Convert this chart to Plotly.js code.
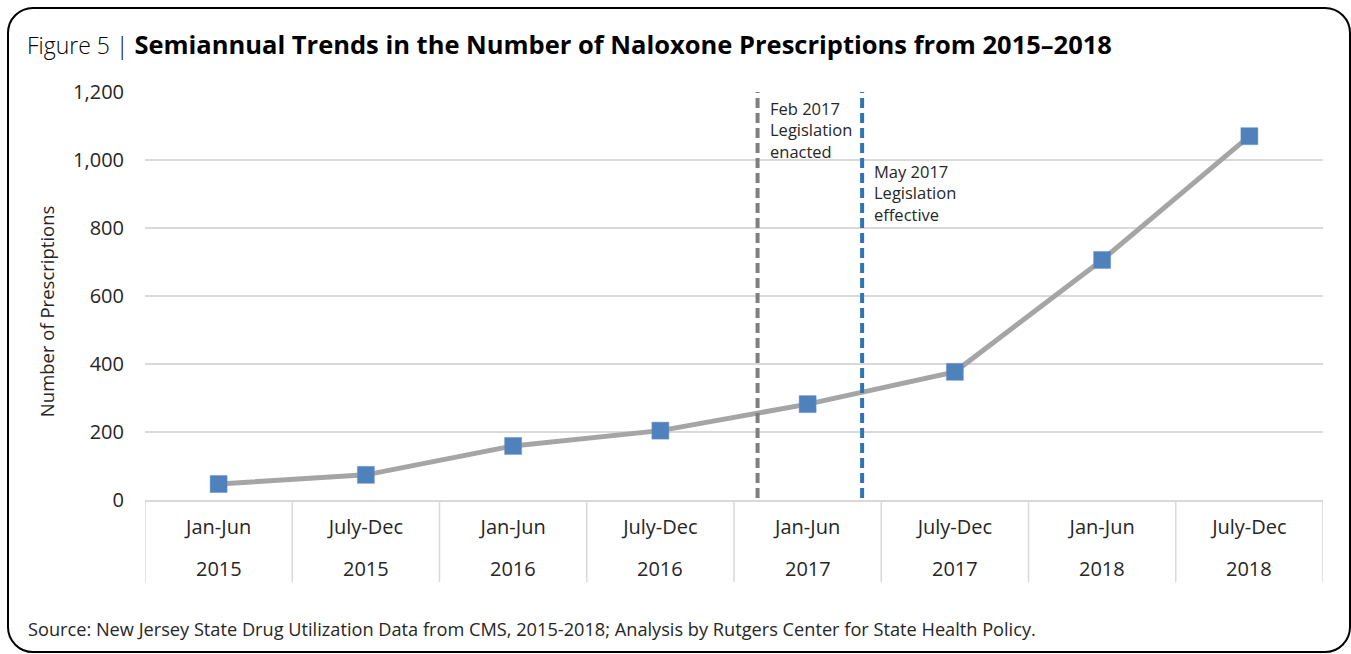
<!DOCTYPE html>
<html>
<head>
<meta charset="utf-8">
<script src="https://cdn.plot.ly/plotly-3.0.1.min.js"></script>
<style>
  html, body { margin: 0; padding: 0; background: #fff; }
  #wrap { position: relative; width: 1351px; height: 654px; overflow: hidden; }
  #chart { position: absolute; left: 0; top: 0; width: 1351px; height: 654px; }
  #frame { position: absolute; left: 7px; top: 7px; width: 1344px; height: 646px; box-sizing: border-box;
           border: 2px solid #000; border-radius: 26px; pointer-events: none; }
</style>
</head>
<body>
<div id="wrap">
  <div id="chart"></div>
  <div id="frame"></div>
</div>
<script>
// ---- data ----
const periods = ["Jan-Jun", "July-Dec", "Jan-Jun", "July-Dec", "Jan-Jun", "July-Dec", "Jan-Jun", "July-Dec"];
const years = ["2015", "2015", "2016", "2016", "2017", "2017", "2018", "2018"];
const prescriptions = [47, 74, 159, 204, 282, 377, 706, 1070];
// legislation events, positioned in category-index units
const eventNames = ["Feb 2017<br>Legislation<br>enacted", "May 2017<br>Legislation<br>effective"];
const eventPositions = [3.66, 4.37];
const eventLabelValues = [1192, 1007];
const eventColors = ["#7f7f7f", "#2e75b6"];
const yTicks = [0, 200, 400, 600, 800, 1000, 1200];

const FONT = "Open Sans, Noto Sans, sans-serif";
const TXT = "#262626";
const GRID = "#d9d9d9";

const cats = periods.map((p, i) => p + " " + years[i]);

const trace = {
  type: "scatter",
  mode: "lines+markers",
  x: cats,
  y: prescriptions,
  line: { color: "#a5a5a5", width: 5 },
  marker: { symbol: "square", size: 17, color: "#4f81bd", line: { color: "#6f95c8", width: 0.5 } },
  hoverinfo: "x+y",
  showlegend: false
};

const shapes = [];
// category boundary separators below the axis
for (let i = 0; i <= cats.length; i++) {
  shapes.push({
    type: "line", xref: "x", yref: "paper",
    x0: i - 0.5, x1: i - 0.5, y0: 0, y1: -0.201,
    line: { color: GRID, width: 1.5 }, layer: "below"
  });
}
// legislation lines
eventPositions.forEach((p, i) => {
  shapes.push({
    type: "line", xref: "x", yref: "paper",
    x0: p, x1: p, y0: 0.005, y1: 1,
    line: { color: eventColors[i], width: 4, dash: "10px,5px" }, layer: "above"
  });
});

const annotations = [];
years.forEach((yr, i) => {
  annotations.push({
    xref: "x", yref: "paper", x: cats[i], y: 0, yshift: -68,
    text: yr, showarrow: false, xanchor: "center", yanchor: "middle",
    font: { family: FONT, size: 20, color: TXT }
  });
});
eventNames.forEach((t, i) => {
  annotations.push({
    xref: "x", yref: "y", x: eventPositions[i], y: eventLabelValues[i],
    xanchor: "left", yanchor: "top", xshift: 10, align: "left",
    text: t, showarrow: false,
    font: { family: FONT, size: 16.5, color: TXT }
  });
});
annotations.push({
  xref: "paper", yref: "paper", x: -0.084, y: 0.463, xanchor: "center", yanchor: "middle",
  textangle: -90, text: "Number of Prescriptions", showarrow: false,
  font: { family: FONT, size: 18.5, color: TXT }
});
annotations.push({
  xref: "paper", yref: "paper", x: -0.1008, y: -0.316, xanchor: "left", yanchor: "middle",
  text: "Source: New Jersey State Drug Utilization Data from CMS, 2015-2018; Analysis by Rutgers Center for State Health Policy.",
  showarrow: false, font: { family: FONT, size: 18.2, color: TXT }
});
annotations.push({
  xref: "paper", yref: "paper", x: -0.1018, y: 1.118, xanchor: "left", yanchor: "middle",
  text: "<span style='font-weight:300;font-size:23px'>Figure 5 | </span><b>Semiannual Trends in the Number of Naloxone Prescriptions from 2015–2018</b>",
  showarrow: false, font: { family: FONT, size: 25.5, color: "#000" }
});

const layout = {
  width: 1351, height: 654,
  margin: { l: 145, r: 28, t: 92, b: 154 },
  paper_bgcolor: "rgba(0,0,0,0)",
  plot_bgcolor: "rgba(0,0,0,0)",
  font: { family: FONT, color: TXT },
  xaxis: {
    type: "category",
    tickmode: "array", tickvals: cats, ticktext: periods,
    range: [-0.5, cats.length - 0.5],
    showgrid: false, zeroline: false,
    showline: true, linecolor: GRID, linewidth: 1.5,
    ticks: "", ticklabelstandoff: 8,
    tickfont: { family: FONT, size: 20, color: TXT },
    fixedrange: true
  },
  yaxis: {
    range: [0, 1200], tickmode: "array", tickvals: yTicks,
    tickformat: ",d",
    showgrid: true, gridcolor: GRID, gridwidth: 1.5,
    zeroline: false, showline: false,
    ticks: "", ticklabelstandoff: 20,
    tickfont: { family: FONT, size: 20, color: TXT },
    fixedrange: true
  },
  shapes: shapes,
  annotations: annotations
};

Plotly.newPlot("chart", [trace], layout, { displayModeBar: false });
</script>
</body>
</html>
